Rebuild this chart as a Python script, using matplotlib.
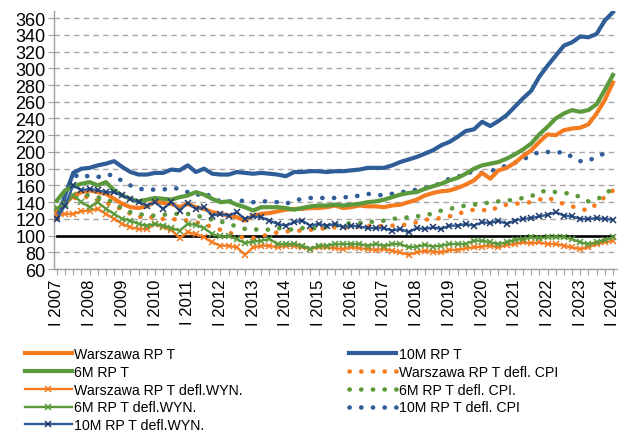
import matplotlib
matplotlib.use("Agg")
import matplotlib.pyplot as plt
import numpy as np

plt.rcParams['font.family'] = ['Liberation Sans', 'DejaVu Sans']

# Quarterly data 2007 Q1 .. 2024 Q1
years = list(range(2007, 2025))
quarter_labels = []
for y in years:
    for q in ["I", "II", "III", "IV"]:
        quarter_labels.append(f"{q} {y}")
quarter_labels = quarter_labels[:69]

warszawa_rpt = [130, 138, 148, 152, 154, 152, 150, 144, 138, 134, 133, 135, 141, 139, 138, 134,
                138, 134, 132, 128, 126, 124, 122, 118, 124, 126, 127, 129, 131, 132, 132, 133,
                133, 134, 136, 133, 134, 136, 135, 135, 134, 136, 137, 140, 143, 148, 151, 153,
                154, 157, 161, 166, 175, 168, 178, 181, 187, 195, 202, 212, 221, 220, 226, 228,
                229, 233, 246, 262, 283]
m6_rpt = [142, 154, 159, 162, 164, 160, 164, 154, 148, 144, 141, 143, 145, 144, 143, 146,
          148, 152, 149, 144, 140, 141, 137, 134, 130, 134, 134, 134, 133, 131, 133, 135,
          136, 136, 137, 136, 137, 138, 140, 141, 143, 146, 149, 151, 152, 156, 159, 162,
          166, 169, 174, 180, 184, 186, 188, 192, 197, 203, 210, 221, 230, 240, 246, 250,
          248, 250, 257, 274, 292]
m10_rpt = [120, 148, 175, 180, 181, 184, 186, 189, 182, 176, 173, 173, 175, 175, 179, 178,
           184, 176, 180, 174, 173, 173, 176, 175, 174, 175, 174, 173, 171, 176, 176, 177,
           177, 176, 177, 177, 178, 179, 181, 181, 181, 184, 188, 191, 194, 198, 202, 208,
           212, 218, 225, 227, 236, 231, 237, 244, 254, 264, 273, 290, 303, 315, 327, 331,
           338, 337, 341, 357, 367]
warszawa_cpi = [128, 138, 144, 148, 145, 142, 140, 134, 132, 126, 122, 124, 120, 120, 120, 119,
                118, 116, 114, 110, 107, 104, 100, 97, 97, 99, 102, 104, 105, 106, 106, 107,
                108, 109, 110, 110, 110, 111, 112, 111, 112, 112, 112, 114, 116, 119, 120, 121,
                123, 126, 129, 131, 131, 129, 135, 137, 138, 139, 140, 143, 146, 141, 138, 135,
                132, 130, 138, 146, 154]
m6_cpi = [132, 140, 146, 150, 148, 146, 143, 140, 132, 128, 126, 124, 124, 125, 126, 126,
          126, 124, 122, 119, 117, 114, 111, 108, 107, 108, 107, 109, 108, 107, 109, 108,
          110, 110, 112, 114, 115, 115, 117, 116, 118, 120, 121, 122, 123, 125, 126, 130,
          132, 134, 136, 137, 138, 140, 141, 142, 143, 145, 147, 152, 154, 152, 151, 150,
          146, 141, 143, 149, 157]
m10_cpi = [122, 150, 170, 174, 170, 170, 173, 172, 165, 160, 156, 155, 155, 155, 157, 156,
           152, 148, 152, 145, 141, 141, 141, 142, 140, 141, 141, 140, 138, 142, 144, 145,
           145, 145, 145, 146, 146, 148, 150, 149, 148, 150, 152, 153, 155, 157, 159, 163,
           168, 170, 175, 176, 175, 177, 180, 184, 187, 191, 196, 200, 200, 199, 200, 194,
           189, 189, 195, 198, 201]
warszawa_wyn = [124, 126, 126, 129, 130, 132, 126, 120, 114, 110, 108, 108, 114, 110, 107, 97,
                104, 102, 98, 92, 88, 88, 86, 77, 86, 88, 88, 86, 88, 88, 86, 84,
                86, 86, 85, 84, 86, 85, 84, 83, 84, 82, 80, 77, 80, 82, 81, 80,
                83, 83, 85, 86, 87, 88, 86, 89, 90, 92, 91, 92, 90, 90, 88, 86,
                84, 86, 90, 92, 94]
m6_wyn = [133, 138, 148, 140, 134, 140, 132, 126, 120, 118, 114, 112, 114, 112, 109, 106,
          114, 113, 109, 102, 99, 99, 96, 91, 93, 94, 96, 90, 90, 90, 88, 84,
          88, 88, 90, 90, 90, 90, 88, 90, 88, 90, 90, 86, 87, 89, 87, 88,
          90, 90, 90, 94, 94, 92, 90, 92, 95, 96, 98, 97, 98, 98, 98, 96,
          92, 90, 92, 95, 98]
m10_wyn = [120, 136, 160, 154, 156, 154, 152, 152, 148, 144, 140, 136, 140, 132, 140, 130,
           139, 132, 134, 124, 126, 124, 128, 120, 123, 122, 118, 114, 112, 116, 118, 112,
           114, 112, 114, 110, 112, 111, 109, 109, 109, 106, 108, 104, 109, 108, 110, 108,
           112, 112, 114, 112, 116, 115, 118, 114, 118, 120, 121, 123, 125, 128, 124, 123,
           120, 120, 121, 120, 119]
reference_level = 100

ORANGE = "#F47B20"
GREEN = "#5B9A3C"
BLUE = "#2F5D98"
NAVY = "#1F3A6A"

x = np.arange(len(quarter_labels))

fig = plt.figure(figsize=(6.21, 4.35), dpi=100)
ax = fig.add_axes([0.087, 0.379, 0.9066, 0.5926])

dot_style = (0, (0.05, 2.5))

ax.plot(x, [reference_level] * len(x), color="black", lw=1.9, zorder=2)

l_w, = ax.plot(x, warszawa_rpt, color=ORANGE, lw=3.0, label="Warszawa RP T", zorder=5)
l_10, = ax.plot(x, m10_rpt, color=BLUE, lw=3.0, label="10M RP T", zorder=5)
l_6, = ax.plot(x, m6_rpt, color=GREEN, lw=3.0, label="6M RP T", zorder=5)
l_wc, = ax.plot(x, warszawa_cpi, color=ORANGE, lw=3.3, ls=dot_style, dash_capstyle="round",
                label="Warszawa RP T defl. CPI", zorder=4)
l_6c, = ax.plot(x, m6_cpi, color=GREEN, lw=3.3, ls=dot_style, dash_capstyle="round",
                label="6M RP T defl. CPI.", zorder=4)
l_10c, = ax.plot(x, m10_cpi, color=BLUE, lw=3.3, ls=dot_style, dash_capstyle="round",
                 label="10M RP T defl. CPI", zorder=4)
l_ww, = ax.plot(x, warszawa_wyn, color=ORANGE, lw=1.7, marker="x", ms=4, mew=1.1,
                label="Warszawa RP T defl.WYN.", zorder=6)
l_6w, = ax.plot(x, m6_wyn, color=GREEN, lw=1.7, marker="x", ms=4, mew=1.1,
                label="6M RP T defl.WYN.", zorder=6)
l_10w, = ax.plot(x, m10_wyn, color=BLUE, lw=1.7, marker="x", ms=4, mew=1.1, mec=NAVY,
                 label="10M RP T defl.WYN.", zorder=6)

ax.set_xlim(-0.35, 68.5)
ax.set_ylim(60, 368)
ax.set_yticks(np.arange(60, 361, 20))
ax.yaxis.grid(True, ls=(0, (4, 3)), color="#A6A6A6", lw=1.0)
ax.set_axisbelow(True)
ax.tick_params(axis="y", labelsize=13, length=4, color="#A0A0A0", pad=2)

ax.set_xticks(x)
ax.set_xticklabels([lab if i % 4 == 0 else "" for i, lab in enumerate(quarter_labels)],
                   rotation=90, fontsize=12)
ax.tick_params(axis="x", length=4, color="#A0A0A0", pad=3)

for s in ["top", "right"]:
    ax.spines[s].set_visible(False)
for s in ["left", "bottom"]:
    ax.spines[s].set_color("#A0A0A0")
    ax.spines[s].set_linewidth(1.0)

leg_kw = dict(frameon=False, fontsize=10.2, handlelength=3.3, handletextpad=0.2,
              labelspacing=0.27, borderaxespad=0, borderpad=0)
fig.legend(handles=[l_w, l_6, l_ww, l_6w, l_10w], loc="upper left",
           bbox_to_anchor=(0.04, 0.2), **leg_kw)
fig.legend(handles=[l_10, l_wc, l_6c, l_10c], loc="upper left",
           bbox_to_anchor=(0.562, 0.2), **leg_kw)

fig.savefig("out.png", dpi=100)
